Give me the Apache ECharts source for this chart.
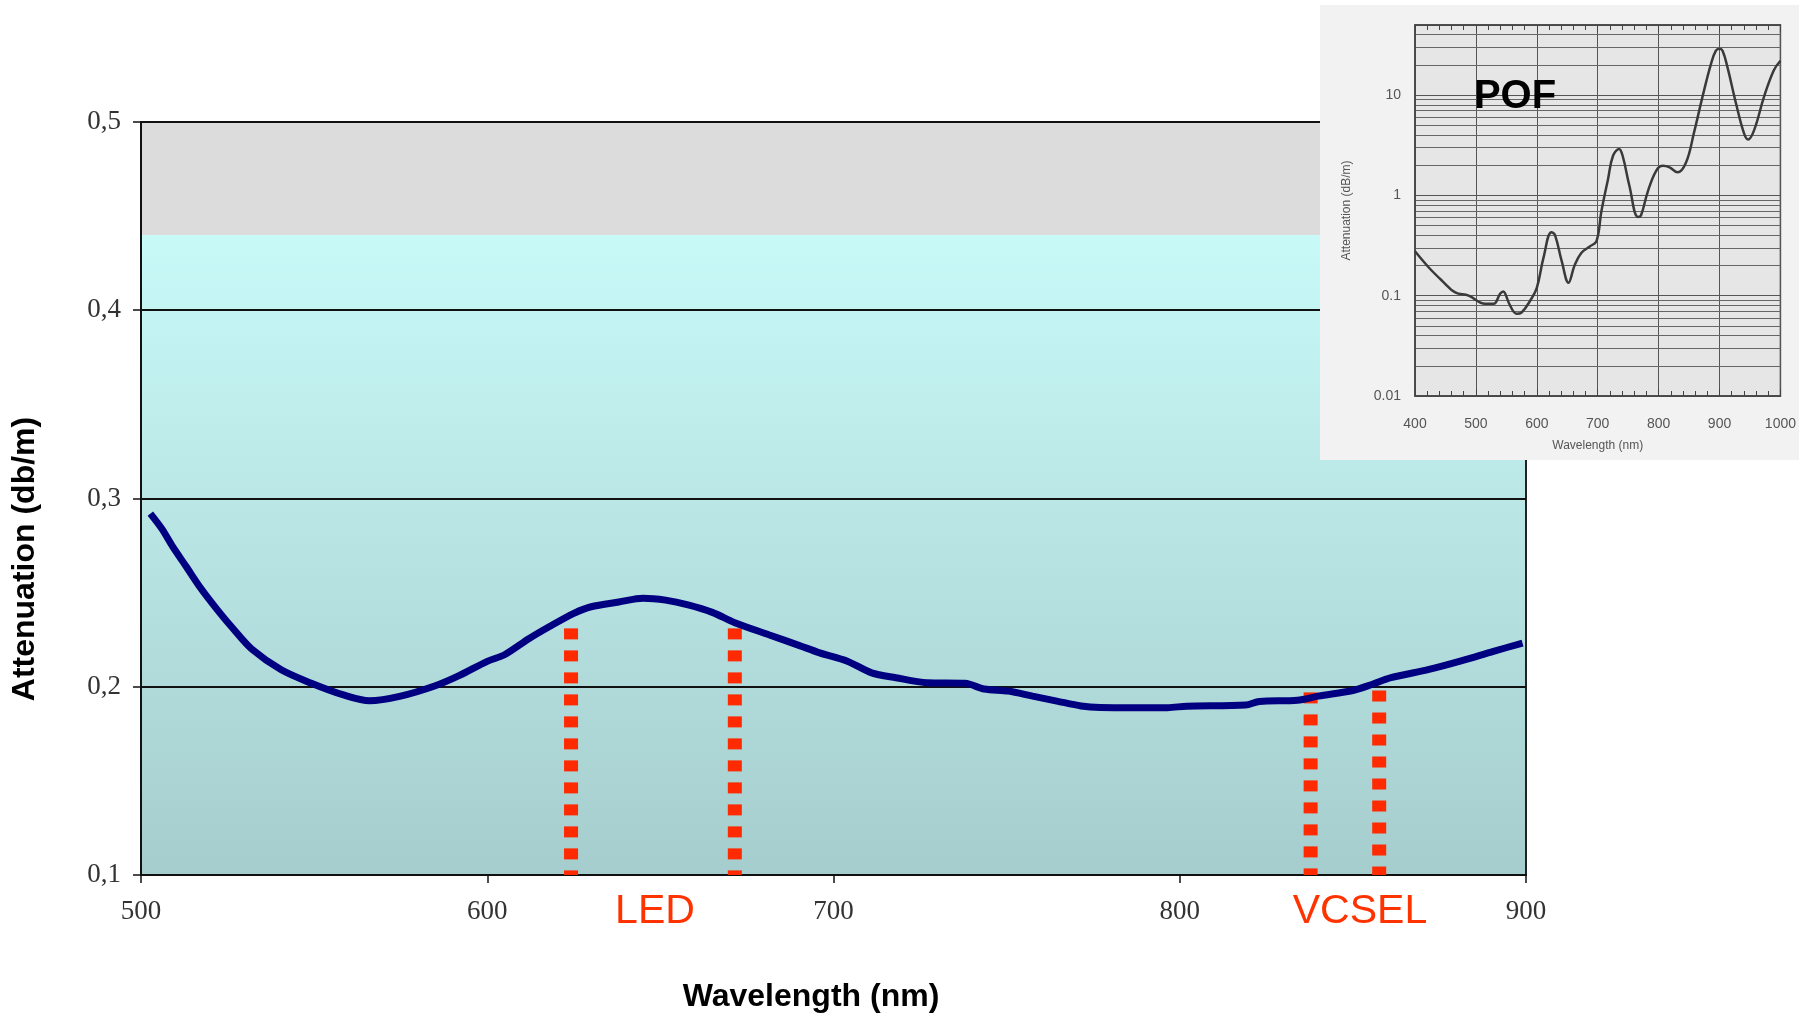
<!DOCTYPE html>
<html>
<head>
<meta charset="utf-8">
<title>Attenuation vs wavelength</title>
<script src="https://cdn.jsdelivr.net/npm/echarts@6/dist/echarts.min.js"></script>
<style>
  html, body { margin: 0; padding: 0; background: #fff; }
  #chart { width: 1799px; height: 1015px; }
</style>
</head>
<body>
<div id="chart"></div>
<script>
// main curve: wavelength (nm) / attenuation (dB/m)
const wavelength = [502.7, 506, 509.3, 513, 517, 522, 527, 532, 540.5, 549, 558.7, 566, 575, 585, 592, 600,
  605, 612, 618, 625, 630, 638, 645, 651.5, 658, 665, 671.5, 681.5, 690, 696, 704, 711, 718, 727, 738,
  743.5, 750.5, 757.5, 764.5, 771.5, 777, 787, 796.5, 802, 819, 823, 834, 840, 850, 855.5, 861, 872,
  881, 890.6, 899]
const attenuation = [0.292, 0.284, 0.274, 0.264, 0.253, 0.241, 0.230, 0.220, 0.209, 0.202, 0.1955, 0.1925,
  0.195, 0.2005, 0.206, 0.2135, 0.217, 0.2255, 0.232, 0.239, 0.2425, 0.245, 0.247, 0.246, 0.2435, 0.2395,
  0.234, 0.2275, 0.222, 0.218, 0.2136, 0.2074, 0.2048, 0.2021, 0.2018, 0.1988, 0.1977, 0.195, 0.1924,
  0.1898, 0.189, 0.1889, 0.1889, 0.1897, 0.1903, 0.1922, 0.1928, 0.195, 0.198, 0.2012, 0.2048, 0.2092,
  0.2136, 0.2188, 0.2232]

// source windows (dashed markers): x position and top of the dashed line
const ledEdges = [624.2, 671.5]
const ledTops = [0.231, 0.231]
const vcselEdges = [837.8, 857.6]
const vcselTops = [0.197, 0.198]

// background bands of the main plot
const bandEdges = [0.1, 0.44, 0.5]

// inset: POF attenuation (log scale)
const pofWavelength = [400, 423, 445, 466, 488, 515, 529, 540, 545, 548, 556, 567, 575, 589, 600, 611, 624,
  630, 641, 652, 662, 673, 687, 698, 706, 717, 725, 735, 741, 752, 766, 771, 782, 796, 807, 818, 831,
  845, 858, 872, 886, 894, 900, 905, 913, 927, 940, 947, 957, 973, 989, 1000]
const pofAttenuation = [0.277, 0.19, 0.14, 0.108, 0.1, 0.083, 0.083, 0.105, 0.11, 0.105, 0.08, 0.066, 0.068,
  0.089, 0.12, 0.24, 0.43, 0.40, 0.22, 0.135, 0.2, 0.267, 0.31, 0.35, 0.69, 1.46, 2.47, 2.9, 2.47, 1.25,
  0.61, 0.63, 1.08, 1.76, 1.97, 1.9, 1.7, 2.13, 4.2, 9.6, 20.5, 27.7, 29, 27.7, 19, 8.3, 4.2, 3.6, 4.5,
  9.6, 17.6, 22]
const pofMinorLines = [0.02, 0.03, 0.04, 0.05, 0.06, 0.07, 0.08, 0.09, 0.2, 0.3, 0.4, 0.5, 0.6, 0.7, 0.8,
  0.9, 2, 3, 4, 5, 6, 7, 8, 9, 20, 30, 40]

const zip = (xs, ys) => xs.map((x, i) => [x, ys[i]])

const chart = echarts.init(document.getElementById('chart'))

// dashed marker drawn from its top down to the axis
const dashSeries = (x, top) => ({
  type: 'line',
  xAxisIndex: 0,
  yAxisIndex: 0,
  z: 4,
  symbol: 'none',
  silent: true,
  data: [[x, top], [x, bandEdges[0]]],
  lineStyle: { color: '#ff2a00', width: 14, type: [11, 11], cap: 'butt' }
})

chart.setOption({
  animation: false,
  grid: [
    { left: 141, top: 122, width: 1385, height: 753, show: true, backgroundColor: 'transparent',
      borderColor: '#222', borderWidth: 2, z: 3 },
    { left: 1415, top: 25, width: 371, height: 371, show: true, backgroundColor: '#e6e6e6',
      borderColor: '#444', borderWidth: 1.5, z: 21 }
  ],
  graphic: [
    { type: 'rect', z: 20, shape: { x: 1320, y: 5, width: 479, height: 455 }, style: { fill: '#f2f2f2' } },
    { type: 'text', z: 30, x: 1515, y: 97,
      style: { text: 'POF', font: 'bold 40px "Liberation Sans"', fill: '#000', align: 'center', verticalAlign: 'middle' } },
    { type: 'text', x: 655, y: 912,
      style: { text: 'LED', font: '41px "Liberation Sans"', fill: '#ff3300', align: 'center', verticalAlign: 'middle' } },
    { type: 'text', x: 1360, y: 912,
      style: { text: 'VCSEL', font: '41px "Liberation Sans"', fill: '#ff3300', align: 'center', verticalAlign: 'middle' } },
    { type: 'text', x: 811, y: 997,
      style: { text: 'Wavelength (nm)', font: 'bold 32px "Liberation Sans"', fill: '#000', align: 'center', verticalAlign: 'middle' } },
    { type: 'text', x: 25, y: 559, rotation: Math.PI / 2,
      style: { text: 'Attenuation (db/m)', font: 'bold 32px "Liberation Sans"', fill: '#000', align: 'center', verticalAlign: 'middle' } }
  ],
  xAxis: [
    {
      gridIndex: 0, type: 'value', min: 500, max: 900, interval: 100, z: 3,
      axisLine: { lineStyle: { color: '#111', width: 2 } },
      axisTick: { length: 8, lineStyle: { color: '#111', width: 1.5 } },
      axisLabel: { margin: 23, fontFamily: 'Liberation Serif', fontSize: 27, color: '#333' },
      splitLine: { show: false }
    },
    {
      gridIndex: 1, type: 'value', min: 400, max: 1000, interval: 100, z: 22,
      name: 'Wavelength (nm)', nameLocation: 'middle', nameGap: 44,
      nameTextStyle: { fontFamily: 'Liberation Sans', fontSize: 12, color: '#555' },
      axisLine: { lineStyle: { color: '#444', width: 1.5 } },
      axisTick: { inside: true, length: 7, lineStyle: { color: '#444' } },
      minorTick: { show: true, splitNumber: 5, length: 5, lineStyle: { color: '#444' } },
      axisLabel: { margin: 21, fontFamily: 'Liberation Sans', fontSize: 14, color: '#555',
        formatter: v => String(v) },
      splitLine: { show: true, lineStyle: { color: '#555', width: 1 } }
    },
    {
      gridIndex: 1, type: 'value', min: 400, max: 1000, interval: 100, position: 'top', z: 22,
      axisLine: { lineStyle: { color: '#444', width: 1.5 } },
      axisTick: { inside: true, length: 7, lineStyle: { color: '#444' } },
      minorTick: { show: true, splitNumber: 5, length: 5, lineStyle: { color: '#444' } },
      axisLabel: { show: false },
      splitLine: { show: false }
    }
  ],
  yAxis: [
    {
      gridIndex: 0, type: 'value', min: 0.1, max: 0.5, interval: 0.1, z: 3,
      axisLine: { show: true, lineStyle: { color: '#111', width: 2 } },
      axisTick: { show: true, length: 8, lineStyle: { color: '#111', width: 1.5 } },
      axisLabel: { margin: 20, fontFamily: 'Liberation Serif', fontSize: 27, color: '#333',
        formatter: v => v.toFixed(1).replace('.', ',') },
      splitLine: { show: true, lineStyle: { color: '#111', width: 2 } }
    },
    {
      gridIndex: 1, type: 'log', logBase: 10, min: 0.01, max: 50, z: 22,
      name: 'Attenuation (dB/m)', nameLocation: 'middle', nameGap: 62, nameRotate: 90,
      nameTextStyle: { fontFamily: 'Liberation Sans', fontSize: 12, color: '#555' },
      axisLine: { show: true, lineStyle: { color: '#444', width: 1.5 } },
      axisTick: { show: false },
      axisLabel: { margin: 14, fontFamily: 'Liberation Sans', fontSize: 14, color: '#555', showMaxLabel: false,
        formatter: v => String(+v.toPrecision(2)) },
      splitLine: { show: true, lineStyle: { color: '#555', width: 1 } }
    }
  ],
  series: [
    {
      // background bands
      type: 'line', xAxisIndex: 0, yAxisIndex: 0, z: 1, data: [], silent: true,
      markArea: {
        silent: true,
        z: 1,
        data: [
          [{ yAxis: bandEdges[0], itemStyle: { color: {
              type: 'linear', x: 0, y: 0, x2: 0, y2: 1,
              colorStops: [{ offset: 0, color: '#c8faf8' }, { offset: 1, color: '#a6cdcd' }]
            } } }, { yAxis: bandEdges[1] }],
          [{ yAxis: bandEdges[1], itemStyle: { color: '#dcdcdc' } }, { yAxis: bandEdges[2] }]
        ]
      }
    },
    dashSeries(ledEdges[0], ledTops[0]),
    dashSeries(ledEdges[1], ledTops[1]),
    dashSeries(vcselEdges[0], vcselTops[0]),
    dashSeries(vcselEdges[1], vcselTops[1]),
    {
      type: 'line', xAxisIndex: 0, yAxisIndex: 0, z: 5,
      symbol: 'none', smooth: 0.3,
      data: zip(wavelength, attenuation),
      lineStyle: { color: '#000080', width: 7 }
    },
    {
      type: 'line', xAxisIndex: 1, yAxisIndex: 1, z: 23,
      symbol: 'none', smooth: 0.4,
      data: zip(pofWavelength, pofAttenuation),
      lineStyle: { color: '#3a3a3a', width: 2.5 },
      markLine: {
        silent: true, symbol: 'none', z: 22,
        label: { show: false },
        lineStyle: { color: '#666', width: 1, type: 'solid' },
        data: pofMinorLines.map(v => ({ yAxis: v }))
      }
    }
  ]
})
</script>
</body>
</html>
